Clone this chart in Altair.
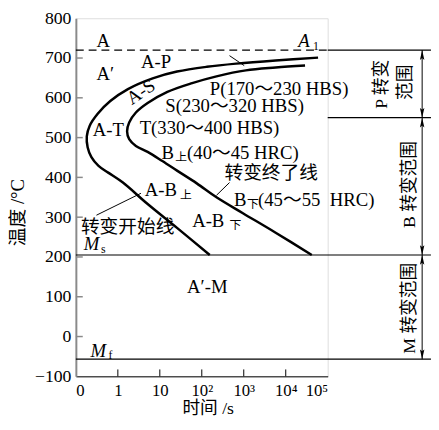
import altair as alt
import pandas as pd

FONT = "'Liberation Serif', 'Noto Sans CJK SC', serif"

# x axis: position in decades (0 -> "0", 1 -> 1 s, 2 -> 10 s ... 6 -> 10^5 s)
x_ticks = [0, 1, 2, 3, 4, 5, 6]
x_tick_labels = ["0", "1", "10", "10²", "10³", "10⁴", "10⁵"]
y_ticks = [-100, 0, 100, 200, 300, 400, 500, 600, 700, 800]

# transformation start line (outer C-curve)
start_x = [5.77, 4.76, 3.82, 3.12, 2.41, 1.83, 1.24, 0.82, 0.52, 0.33, 0.26, 0.28, 0.37, 0.54, 0.77, 1.12, 1.71, 2.41, 3.19]
start_t = [701, 694, 686, 678, 666, 649, 622, 592, 560, 530, 503, 476, 451, 429, 412, 387, 333, 273, 205]
# transformation finish line (inner C-curve)
finish_x = [5.46, 4.76, 4.05, 3.35, 2.77, 2.18, 1.71, 1.43, 1.27, 1.22, 1.27, 1.43, 1.71, 2.06, 2.41, 2.88, 3.35, 3.98, 4.76, 5.62]
finish_t = [681, 676, 669, 654, 637, 615, 587, 563, 538, 516, 496, 479, 464, 441, 417, 385, 350, 310, 261, 205]

A1 = 720
P_B = 550
MS = 205
MF = -57
X_END = 8.46
X_ARROW = 8.25

curves = pd.DataFrame({
    "x": start_x + finish_x,
    "t": start_t + finish_t,
    "curve": ["start"] * len(start_x) + ["finish"] * len(finish_x),
    "i": list(range(len(start_x))) + list(range(len(finish_x))),
})

label_expr = "[" + ",".join("'" + s + "'" for s in x_tick_labels) + "][datum.value]"

xs = alt.Scale(domain=[0, 6], nice=False, zero=False)
ys = alt.Scale(domain=[-100, 800], nice=False, zero=False)

base = alt.Chart(curves).mark_line(color="black", strokeWidth=2.5, interpolate="catmull-rom").encode(
    x=alt.X("x:Q", scale=xs, axis=alt.Axis(
        values=x_ticks, labelExpr=label_expr, ticks=False, grid=False,
        domainColor="black", domainWidth=1, labelFont=FONT, labelFontSize=17,
        labelColor="black", labelBaseline="middle", labelPadding=15,
        title="时间 /s", titleFont=FONT, titleFontSize=18, titleFontWeight="normal",
        titleColor="black", titleX=134, titleY=33, titleAlign="center", titleBaseline="middle")),
    y=alt.Y("t:Q", scale=ys, axis=alt.Axis(
        values=y_ticks, ticks=False, grid=False, domainColor="#8a8a8a", domainWidth=2,
        labelFont=FONT, labelFontSize=18, labelColor="black", labelPadding=5,
        title="温度 /°C", titleFont=FONT, titleFontSize=19, titleFontWeight="normal",
        titleColor="black", titleX=-59, titleY=197, titleAngle=270,
        titleAlign="center", titleBaseline="middle")),
    detail="curve:N",
    order="i:Q",
)

# horizontal reference lines
hl = pd.DataFrame({
    "x": [0, 6, 6, 0, 0],
    "x2": [6, X_END, X_END, X_END, X_END],
    "t": [A1, A1, P_B, MS, MF],
    "dash": ["d", "s", "s", "s", "s"],
})
hdash = alt.Chart(hl[hl.dash == "d"]).mark_rule(color="black", strokeWidth=1.2, strokeDash=[8, 5]).encode(
    x=alt.X("x:Q", scale=xs), x2="x2:Q", y=alt.Y("t:Q", scale=ys))
hsolid = alt.Chart(hl[hl.dash == "s"]).mark_rule(color="black", strokeWidth=1.2).encode(
    x=alt.X("x:Q", scale=xs), x2="x2:Q", y=alt.Y("t:Q", scale=ys))

# inward ticks
ytk = alt.Chart(pd.DataFrame({"t": y_ticks[1:-1]})).mark_rule(color="#8a8a8a", strokeWidth=1.5).encode(
    y=alt.Y("t:Q", scale=ys), x=alt.value(0), x2=alt.value(7))
xtk = alt.Chart(pd.DataFrame({"x": x_ticks[1:-1]})).mark_rule(color="black", strokeWidth=1).encode(
    x=alt.X("x:Q", scale=xs), y=alt.value(364), y2=alt.value(357))

# vertical range arrow
arr = alt.Chart(pd.DataFrame({"x": [X_ARROW], "t": [A1], "t2": [MF]})).mark_rule(color="black", strokeWidth=1).encode(
    x=alt.X("x:Q", scale=xs), y=alt.Y("t:Q", scale=ys), y2="t2:Q")
up_shape = "M0,0L0.45,2L0,1.6L-0.45,2Z"
down_shape = "M0,0L0.45,-2L0,-1.6L-0.45,-2Z"
ups = alt.Chart(pd.DataFrame({"x": [X_ARROW] * 3, "t": [A1, P_B, MS]})).mark_point(
    shape=up_shape, size=100, filled=True, color="black", opacity=1).encode(
    x=alt.X("x:Q", scale=xs), y=alt.Y("t:Q", scale=ys))
downs = alt.Chart(pd.DataFrame({"x": [X_ARROW] * 3, "t": [P_B, MS, MF]})).mark_point(
    shape=down_shape, size=100, filled=True, color="black", opacity=1).encode(
    x=alt.X("x:Q", scale=xs), y=alt.Y("t:Q", scale=ys))

# leader lines
leaders = pd.DataFrame({
    "x": [3.66, 0.49, 3.35],
    "t": [706, 305, 355],
    "x2": [4.01, 1.55, 3.66],
    "t2": [681, 360, 387],
})
lead = alt.Chart(leaders).mark_rule(color="black", strokeWidth=1).encode(
    x=alt.X("x:Q", scale=xs), y=alt.Y("t:Q", scale=ys), x2="x2:Q", y2="t2:Q")

# labels
normal_text = ["A", "A′", "A-P", "A-T", "P(170～230 HBS)", "S(230～320 HBS)", "T(330～400 HBS)",
               "B", "(40～45 HRC)", "转变终了线", "B", "(45～55", "HRC)", "A-B", "A-B",
               "转变开始线", "A′-M"]
normal_x = [0.49, 0.49, 1.55, 0.40, 3.19, 2.13, 1.52, 2.04, 2.65, 3.54, 3.77, 4.34, 6.05, 1.64, 2.77, 0.12, 2.65]
normal_t = [743, 659, 689, 518, 622, 580, 523, 461, 461, 412, 343, 343, 343, 367, 291, 274, 125]

small_text = ["上", "下", "上", "下", "1", "s", "f"]
small_x = [2.37, 4.08, 2.48, 3.66, 5.65, 0.60, 0.78]
small_t = [451, 333, 355, 281, 731, 221, -46]

italic_text = ["A", "M", "M"]
italic_x = [5.30, 0.19, 0.35]
italic_t = [743, 233, -36]

vert_text = ["P 转变", "范围", "B 转变范围", "M 转变范围"]
vert_x = [7.29, 7.87, 7.97, 7.97]
vert_t = [634, 639, 382, 71]


def text_layer(texts, xv, tv, **kw):
    df = pd.DataFrame({"label": texts, "x": xv, "t": tv})
    return alt.Chart(df).mark_text(font=FONT, color="black", baseline="middle", **kw).encode(
        x=alt.X("x:Q", scale=xs), y=alt.Y("t:Q", scale=ys), text="label:N")


tn = text_layer(normal_text, normal_x, normal_t, fontSize=19, align="left")
tsm = text_layer(small_text, small_x, small_t, fontSize=12, align="left")
tit = text_layer(italic_text, italic_x, italic_t, fontSize=19, align="left", fontStyle="italic")
tas = text_layer(["A-S"], [1.55], [615], fontSize=19, align="center", angle=326)
tv = text_layer(vert_text, vert_x, vert_t, fontSize=18, align="center", angle=270)

chart = alt.layer(
    base, hdash, hsolid, ytk, xtk, arr, ups, downs, lead, tn, tsm, tit, tas, tv
).properties(
    width=256, height=364,
    autosize=alt.AutoSizeParams(type="none"),
    padding={"left": 69, "top": 7, "right": 105, "bottom": 42},
).configure_view(stroke="black", strokeWidth=1).configure(background="white")

chart.save("out.html", embed_options={"renderer": "svg", "actions": False})
